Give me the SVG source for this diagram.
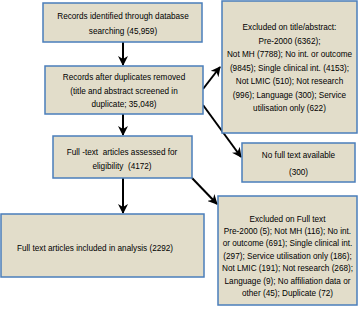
<svg xmlns="http://www.w3.org/2000/svg" width="359" height="315" viewBox="0 0 359 315">
<defs>
<marker id="ah" viewBox="0 0 10 10" refX="9" refY="5" markerWidth="5" markerHeight="5" orient="auto" markerUnits="strokeWidth">
<path d="M0,0 L10,5 L0,10 L3,5 z" fill="#000"/>
</marker>
<style>
.box{fill:#E2DDCA;stroke:#4A7EBB;stroke-width:1.5}
.t{font-family:"Liberation Sans",Arial,sans-serif;font-size:8.2px;fill:#000;text-anchor:middle}
.tl{font-family:"Liberation Sans",Arial,sans-serif;font-size:8.2px;fill:#000}
.c{stroke:#000;stroke-width:2;fill:none;marker-end:url(#ah)}
</style>
</defs>
<rect width="359" height="315" fill="#fff"/>
<g id="connectors">
<line class="c" x1="123" y1="42" x2="123" y2="65"/>
<line class="c" x1="123" y1="114" x2="123" y2="135"/>
<line class="c" x1="123" y1="178" x2="123" y2="213"/>
<line class="c" x1="203" y1="89" x2="220" y2="67"/>
<line class="c" x1="203" y1="105" x2="241" y2="157"/>
<line class="c" x1="192" y1="178" x2="217" y2="204"/>
</g>
<g id="n1">
<rect class="box" x="43" y="3" width="159" height="39"/>
<text class="t" x="123" y="19">Records identified through database</text>
<text class="t" x="123" y="34">searching (45,959)</text>
</g>
<g id="n2">
<rect class="box" x="45" y="66" width="158" height="48"/>
<text class="t" x="124" y="80">Records after duplicates removed</text>
<text class="t" x="124" y="94">(title and abstract screened in</text>
<text class="t" x="124" y="107">duplicate; 35,048)</text>
</g>
<g id="n3">
<rect class="box" x="53" y="136" width="139" height="42"/>
<text class="t" x="122" y="155" xml:space="preserve">Full -text  articles assessed for</text>
<text class="t" x="122" y="169" xml:space="preserve">eligibility  (4172)</text>
</g>
<g id="n4">
<rect class="box" x="1" y="214" width="203" height="63"/>
<text class="tl" x="17" y="251">Full text articles included in analysis (2292)</text>
</g>
<g id="n5">
<rect class="box" x="222" y="1" width="135" height="132"/>
<text class="t" x="289.5" y="30">Excluded on title/abstract:</text>
<text class="t" x="289.5" y="44">Pre-2000 (6362);</text>
<text class="t" x="289.5" y="57">Not MH (7788); No int. or outcome</text>
<text class="t" x="289.5" y="71">(9845); Single clinical int. (4153);</text>
<text class="t" x="289.5" y="84">Not LMIC (510); Not research</text>
<text class="t" x="289.5" y="98">(996); Language (300); Service</text>
<text class="t" x="289.5" y="111">utilisation only (622)</text>
</g>
<g id="n6">
<rect class="box" x="242" y="143" width="113" height="39"/>
<text class="t" x="298.5" y="158">No full text available</text>
<text class="t" x="298.5" y="175">(300)</text>
</g>
<g id="n7">
<rect class="box" x="218" y="196" width="139" height="109"/>
<text class="t" x="287.5" y="222">Excluded on Full text</text>
<text class="t" x="287.5" y="234">Pre-2000 (5); Not MH (116); No int.</text>
<text class="t" x="287.5" y="246">or outcome (691); Single clinical int.</text>
<text class="t" x="287.5" y="259">(297); Service utilisation only (186);</text>
<text class="t" x="287.5" y="271">Not LMIC (191); Not research (268);</text>
<text class="t" x="287.5" y="284">Language (9); No affiliation data or</text>
<text class="t" x="287.5" y="296">other (45); Duplicate (72)</text>
</g>
</svg>
